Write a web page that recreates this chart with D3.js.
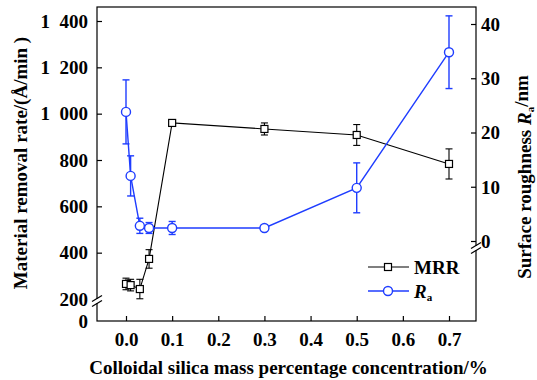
<!DOCTYPE html>
<html lang="en">
<head>
    <meta charset="UTF-8">
    <title>MRR and Ra vs colloidal silica</title>
    <style>
        body { margin: 0; background: #fff; }
        svg { display: block; }
        text { font-family: "Liberation Serif", "Times New Roman", serif; font-weight: bold; fill: #000; }
    </style>
    <script src="https://d3js.org/d3.v7.min.js"></script>
</head>
<body>
    <div id="chart"></div>
    <script>
        // silica concentration (mass %)
        const conc = [0, 0.01, 0.03, 0.05, 0.1, 0.3, 0.5, 0.7];
        // material removal rate, Å/min
        const mrr = [265, 260, 243, 373, 960, 934, 908, 783];
        const mrrErr = [25, 25, 42, 40, 8, 26, 45, 65];
        // surface roughness Ra, nm
        const ra = [23.8, 12.0, 2.8, 2.4, 2.4, 2.4, 9.8, 34.8];
        const raErr = [5.9, 3.7, 1.4, 1.0, 1.2, 0.6, 4.6, 6.7];

        const xTicks = [0, 0.1, 0.2, 0.3, 0.4, 0.5, 0.6, 0.7];
        const leftTicks = [0, 200, 400, 600, 800, 1000, 1200, 1400];
        const rightTicks = [0, 10, 20, 30, 40];

        const width = 537, height = 380;
        const box = { left: 97, right: 476, top: 7, bottom: 321 };
        const blue = "#1f3dff";
        const fs = "19px";

        const svg = d3.select("#chart").append("svg")
            .attr("width", width)
            .attr("height", height);

        const x = d3.scaleLinear().domain([0, 0.7]).range([126, 449]);
        // broken left axis: 0 sits on the bottom, then 200..1400
        const yL = d3.scaleLinear().domain([0, 200, 1400]).range([321, 299, 21]);
        const yR = d3.scaleLinear().domain([0, 40]).range([241, 24]);

        const fmtLeft = d => {
            if (d >= 1000) return Math.floor(d / 1000) + "\u2002" + String(d % 1000).padStart(3, "0");
            return String(d);
        };

        // frame
        svg.append("rect")
            .attr("x", box.left).attr("y", box.top)
            .attr("width", box.right - box.left).attr("height", box.bottom - box.top)
            .attr("fill", "none").attr("stroke", "#000").attr("stroke-width", 1.2);

        // axes
        const gx = svg.append("g").attr("transform", `translate(0,${box.bottom})`)
            .call(d3.axisBottom(x).tickValues(xTicks).tickFormat(d3.format(".1f"))
                .tickSizeInner(-5).tickSizeOuter(0).tickPadding(12));
        const gl = svg.append("g").attr("transform", `translate(${box.left},0)`)
            .call(d3.axisLeft(yL).tickValues(leftTicks).tickFormat(fmtLeft)
                .tickSizeInner(-5).tickSizeOuter(0).tickPadding(9));
        const gr = svg.append("g").attr("transform", `translate(${box.right},0)`)
            .call(d3.axisRight(yR).tickValues(rightTicks)
                .tickSizeInner(-5).tickSizeOuter(0).tickPadding(5));

        [gx, gl, gr].forEach(g => {
            g.select(".domain").remove();
            g.selectAll(".tick line").attr("stroke", "#000").attr("stroke-width", 1.2);
            g.selectAll(".tick text").style("font-size", fs)
                .style("font-family", "'Liberation Serif', serif").style("font-weight", "bold");
        });
        gl.selectAll(".tick").filter(d => d <= 200).select("line").remove();
        gr.selectAll(".tick text").attr("dy", "0.34em");

        // axis break marks
        function axisBreak(xp, yp) {
            svg.append("rect").attr("x", xp - 2).attr("y", yp - 2).attr("width", 4).attr("height", 4).attr("fill", "#fff");
            [-2.5, 2.5].forEach(o => {
                svg.append("line")
                    .attr("x1", xp - 5).attr("y1", yp + o + 3)
                    .attr("x2", xp + 5).attr("y2", yp + o - 3)
                    .attr("stroke", "#000").attr("stroke-width", 1.2);
            });
        }
        axisBreak(box.left, 301);
        axisBreak(box.right, 248);

        // series drawing helper
        function drawSeries(vals, errs, yScale, color, shape, lw) {
            const g = svg.append("g");
            const pts = conc.map((c, i) => ({ x: c, y: vals[i], e: errs[i] }));
            g.append("path").datum(pts)
                .attr("fill", "none").attr("stroke", color).attr("stroke-width", lw)
                .attr("d", d3.line().x(d => x(d.x)).y(d => yScale(d.y)));
            pts.forEach(p => {
                const cx = x(p.x);
                const y1 = yScale(p.y - p.e), y2 = yScale(p.y + p.e);
                g.append("line").attr("x1", cx).attr("x2", cx).attr("y1", y1).attr("y2", y2)
                    .attr("stroke", color).attr("stroke-width", lw);
                [y1, y2].forEach(yy => g.append("line")
                    .attr("x1", cx - 3.5).attr("x2", cx + 3.5).attr("y1", yy).attr("y2", yy)
                    .attr("stroke", color).attr("stroke-width", lw));
            });
            pts.forEach(p => marker(g, x(p.x), yScale(p.y), shape, color));
        }

        function marker(g, cx, cy, shape, color) {
            if (shape === "square") {
                g.append("rect").attr("x", cx - 3.5).attr("y", cy - 3.5)
                    .attr("width", 7).attr("height", 7)
                    .attr("fill", "#fff").attr("stroke", color).attr("stroke-width", 1.2);
            } else {
                g.append("circle").attr("cx", cx).attr("cy", cy).attr("r", 4.5)
                    .attr("fill", "#fff").attr("stroke", color).attr("stroke-width", 1.4);
            }
        }

        drawSeries(mrr, mrrErr, yL, "#000", "square", 1.1);
        drawSeries(ra, raErr, yR, blue, "circle", 1.4);

        // legend
        const legend = [
            { name: "MRR", color: "#000", shape: "square", y: 267 },
            { name: "R", sub: "a", color: blue, shape: "circle", y: 291 }
        ];
        legend.forEach(l => {
            const g = svg.append("g");
            g.append("line").attr("x1", 368).attr("x2", 409).attr("y1", l.y).attr("y2", l.y)
                .attr("stroke", l.color).attr("stroke-width", l.shape === "circle" ? 1.4 : 1.1);
            marker(g, 388, l.y, l.shape, l.color);
            const t = g.append("text").attr("x", 414).attr("y", l.y).attr("dy", "0.35em")
                .style("font-size", fs);
            if (l.sub) {
                t.append("tspan").style("font-style", "italic").text(l.name);
                t.append("tspan").attr("dy", "0.3em").style("font-size", "11px").text(l.sub);
            } else {
                t.text(l.name);
            }
        });

        // axis titles
        svg.append("text")
            .attr("transform", "translate(20,163) rotate(-90)")
            .attr("text-anchor", "middle").attr("dy", "0.35em")
            .style("font-size", fs)
            .text("Material removal rate/(\u00c5/min )");

        const rt = svg.append("text")
            .attr("transform", "translate(524,177) rotate(-90)")
            .attr("text-anchor", "middle").attr("dy", "0.35em")
            .style("font-size", fs);
        rt.append("tspan").text("Surface roughness ");
        rt.append("tspan").style("font-style", "italic").text("R");
        rt.append("tspan").attr("dy", "0.3em").style("font-size", "11px").text("a");
        rt.append("tspan").attr("dy", "-0.3em").text("/nm");

        svg.append("text")
            .attr("x", (box.left + box.right) / 2 + 2).attr("y", 367)
            .attr("text-anchor", "middle").attr("dy", "0.35em")
            .style("font-size", fs)
            .text("Colloidal silica mass percentage concentration/%");
    </script>
</body>
</html>
